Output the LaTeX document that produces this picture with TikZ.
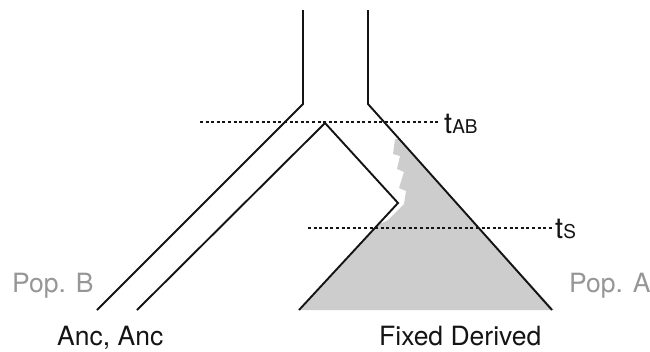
\documentclass[tikz,border=0pt]{standalone}
\usepackage{fontspec}
\setmainfont{TeX Gyre Heros}
\definecolor{fillgray}{RGB}{205,205,205}
\definecolor{popgray}{RGB}{150,150,150}
\definecolor{ink}{RGB}{20,20,20}
\tikzset{
  branch/.style={draw=ink, line width=1.9pt, line join=miter},
  timeline/.style={draw=ink, line width=1.4pt, dash pattern=on 3pt off 2.6pt},
  biglabel/.style={inner sep=0pt, font=\fontsize{26.5}{26.5}\selectfont, text=ink},
  poplabel/.style={inner sep=0pt, font=\fontsize{26.5}{26.5}\selectfont, text=popgray},
  tlabel/.style={inner sep=0pt, anchor=base west, text=ink}
}
\newcommand{\tlab}[1]{{\fontsize{29}{29}\selectfont t}{\fontsize{19}{19}\selectfont #1}}
\begin{document}
\begin{tikzpicture}[x=1pt,y=-1pt]
\useasboundingbox (0,0) rectangle (650,351);
% coordinates
\coordinate (LT) at (303,10);
\coordinate (LB) at (303,104);
\coordinate (LE) at (97,310);
\coordinate (RT) at (368,10);
\coordinate (RB) at (368,104);
\coordinate (RE) at (552,310);
\coordinate (I1) at (137,310);
\coordinate (IA) at (325,123);
\coordinate (IC) at (398,203);
\coordinate (I2) at (299,310);
\coordinate (ABs) at (200,122);
\coordinate (ABe) at (440,122);
\coordinate (Ss) at (308,228);
\coordinate (Se) at (552,228);
% gray sweep
\fill[fillgray] (395,139) -- (393,154) -- (400,156) -- (397,169) -- (404,172)
  -- (399,188) -- (406,191) -- (404,204) -- (388,220) -- (378,225) -- (374,229)
  -- (I2) -- (554,310) -- (399.3,139) -- cycle;
% timelines
\draw[timeline] (ABs) -- (ABe);
\draw[timeline] (Ss) -- (Se);
% branches
\draw[branch] (LT) -- (LB) -- (LE);
\draw[branch] (RT) -- (RB) -- (RE);
\draw[branch] (I1) -- (IA) -- (IC) -- (I2);
% labels
\node[tlabel] (tAB) at (444,133) {\tlab{AB}};
\node[tlabel] (tS) at (555,238) {\tlab{S}};
\node[poplabel, anchor=base west] (popB) at (12,292) {Pop. B};
\node[poplabel, anchor=base west] (popA) at (569,292) {Pop. A};
\node[biglabel, anchor=base west] (anc) at (57,345) {Anc, Anc};
\node[biglabel, anchor=base west] (fix) at (379,345) {Fixed Derived};
\end{tikzpicture}
\end{document}
